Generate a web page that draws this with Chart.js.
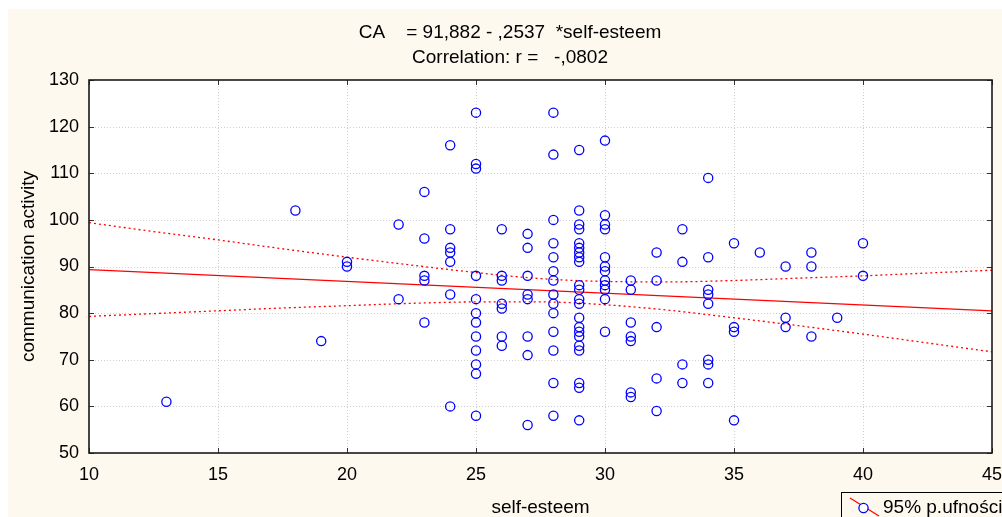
<!DOCTYPE html>
<html>
<head>
<meta charset="utf-8">
<script src="https://cdn.jsdelivr.net/npm/chart.js@4.4.1/dist/chart.umd.min.js"></script>
<style>
html,body{margin:0;padding:0;background:#ffffff;}
#wrap{width:1002px;height:517px;position:relative;overflow:hidden;}
canvas{display:block;}
</style>
</head>
<body>
<div id="wrap"><canvas id="c" width="1002" height="517"></canvas></div>
<script>
// ---- data ----
const selfEsteem = [
  13,
  18,
  19,
  20,20,
  22,22,
  23,23,23,23,23,
  24,24,24,24,24,24,24,
  25,25,25,25,25,25,25,25,25,25,25,25,
  26,26,26,26,26,26,26,
  27,27,27,27,27,27,27,27,
  28,28,28,28,28,28,28,28,28,28,28,28,28,28,
  29,29,29,29,29,29,29,29,29,29,29,29,29,29,29,29,29,29,29,29,29,29,
  30,30,30,30,30,30,30,30,30,30,30,30,
  31,31,31,31,31,31,31,
  32,32,32,32,32,
  33,33,33,33,
  34,34,34,34,34,34,34,34,
  35,35,35,35,
  36,
  37,37,37,
  38,38,38,
  39,
  40,40
];
const commActivity = [
  61,
  102,
  74,
  91,90,
  99,83,
  106,96,88,87,78,
  116,98,94,93,91,84,60,
  123,112,111,88,83,80,78,75,72,69,67,58,
  98,88,87,82,81,75,73,
  97,94,88,84,83,75,71,56,
  123,114,100,95,92,89,87,84,82,80,76,72,65,58,
  115,102,99,98,95,94,93,92,91,86,85,83,82,79,77,76,75,73,72,65,64,57,
  117,101,99,98,92,90,89,87,86,85,83,76,
  87,85,78,75,74,63,62,
  93,87,77,66,59,
  98,91,69,65,
  109,92,85,84,82,70,69,65,
  95,77,76,57,
  93,
  90,79,77,
  93,90,75,
  79,
  95,88
];
// regression line end points (CA = 91,882 - ,2537*self-esteem)
const fitX = [10, 45];
const fitY = [89.34, 80.47];
// 95% confidence band read at these x positions
const bandX     = [10, 12.5, 15, 17.5, 20, 22.5, 25, 27.5, 30, 32.5, 35, 37.5, 40, 42.5, 45];
const bandUpper = [99.4, 97.5, 95.7, 93.8, 92.0, 90.3, 88.7, 87.4, 86.8, 86.7, 87.0, 87.5, 88.0, 88.6, 89.2];
const bandLower = [79.3, 79.9, 80.5, 81.1, 81.6, 82.1, 82.4, 82.4, 81.8, 80.6, 79.0, 77.3, 75.5, 73.6, 71.7];
// axes
const xMin = 10, xMax = 45, xStep = 5;
const yMin = 50, yMax = 130, yStep = 10;
const titleLines = ['CA    = 91,882 - ,2537  *self-esteem', 'Correlation: r =   -,0802'];
const xTitle = 'self-esteem';
const yTitle = 'communication activity';
const legendLabel = '95% p.ufności';

const FONT = "'Liberation Sans', Arial, sans-serif";
const CREAM = '#fdf9ef';

const scatterPts = selfEsteem.map((x, i) => ({x: x, y: commActivity[i]}));
const fitPts = fitX.map((x, i) => ({x: x, y: fitY[i]}));
const upPts = bandX.map((x, i) => ({x: x, y: bandUpper[i]}));
const loPts = bandX.map((x, i) => ({x: x, y: bandLower[i]}));

const bgPlugin = {
  id: 'bg',
  beforeDraw(chart) {
    const ctx = chart.ctx, a = chart.chartArea;
    ctx.save();
    ctx.fillStyle = '#ffffff';
    ctx.fillRect(0, 0, chart.width, chart.height);
    ctx.fillStyle = CREAM;
    ctx.fillRect(8, 9, chart.width - 8, chart.height - 9);
    ctx.fillStyle = '#ffffff';
    ctx.fillRect(a.left, a.top, a.right - a.left, a.bottom - a.top);
    ctx.restore();
  },
  beforeDatasetsDraw(chart) {
    const ctx = chart.ctx, a = chart.chartArea;
    const xs = chart.scales.x, ys = chart.scales.y;
    ctx.save();
    ctx.strokeStyle = '#cfcfcf';
    ctx.lineWidth = 1;
    ctx.setLineDash([1, 2]);
    xs.ticks.forEach(t => {
      if (t.value <= xMin || t.value >= xMax) return;
      const px = Math.round(xs.getPixelForValue(t.value)) + 0.5;
      ctx.beginPath(); ctx.moveTo(px, a.top); ctx.lineTo(px, a.bottom); ctx.stroke();
    });
    ys.ticks.forEach(t => {
      if (t.value <= yMin || t.value >= yMax) return;
      const py = Math.round(ys.getPixelForValue(t.value)) + 0.5;
      ctx.beginPath(); ctx.moveTo(a.left, py); ctx.lineTo(a.right, py); ctx.stroke();
    });
    ctx.restore();
  },
  afterDatasetsDraw(chart) {
    const ctx = chart.ctx, a = chart.chartArea;
    const xs = chart.scales.x, ys = chart.scales.y;
    ctx.save();
    // inner tick marks
    ctx.strokeStyle = '#333333';
    ctx.lineWidth = 1;
    xs.ticks.forEach(t => {
      const px = Math.round(xs.getPixelForValue(t.value)) + 0.5;
      ctx.beginPath();
      ctx.moveTo(px, a.bottom); ctx.lineTo(px, a.bottom - 5);
      ctx.moveTo(px, a.top); ctx.lineTo(px, a.top + 5);
      ctx.stroke();
    });
    ys.ticks.forEach(t => {
      const py = Math.round(ys.getPixelForValue(t.value)) + 0.5;
      ctx.beginPath();
      ctx.moveTo(a.left, py); ctx.lineTo(a.left + 5, py);
      ctx.moveTo(a.right, py); ctx.lineTo(a.right - 5, py);
      ctx.stroke();
    });
    // frame
    ctx.strokeStyle = '#1a1a1a';
    ctx.lineWidth = 1.6;
    ctx.strokeRect(a.left, a.top, a.right - a.left, a.bottom - a.top);
    // legend box (partially cut off at the page edge)
    ctx.lineWidth = 1;
    ctx.strokeStyle = '#000000';
    ctx.fillStyle = CREAM;
    ctx.fillRect(841.5, 492.5, 200, 40);
    ctx.strokeRect(841.5, 492.5, 200, 40);
    ctx.strokeStyle = '#ff0000';
    ctx.lineWidth = 1.2;
    ctx.beginPath(); ctx.moveTo(850, 498); ctx.lineTo(879, 516); ctx.stroke();
    ctx.fillStyle = '#ffffff';
    ctx.strokeStyle = '#0000ff';
    ctx.lineWidth = 1.3;
    ctx.beginPath(); ctx.arc(863.5, 508, 4.6, 0, Math.PI * 2); ctx.fill(); ctx.stroke();
    ctx.fillStyle = '#000000';
    ctx.font = '19px ' + FONT;
    ctx.textBaseline = 'middle';
    ctx.textAlign = 'left';
    ctx.fillText(legendLabel, 883, 508);
    ctx.restore();
  }
};

new Chart(document.getElementById('c'), {
  type: 'scatter',
  data: {
    datasets: [
      {
        label: 'data',
        data: scatterPts,
        pointStyle: 'circle',
        pointRadius: 4.6,
        pointBorderWidth: 1.3,
        pointBorderColor: '#0000ff',
        pointBackgroundColor: 'rgba(255,255,255,0)',
        showLine: false,
        order: 0
      },
      {
        label: 'fit',
        data: fitPts,
        showLine: true,
        borderColor: '#ff0000',
        borderWidth: 1.3,
        pointRadius: 0,
        order: 1
      },
      {
        label: 'upper',
        data: upPts,
        showLine: true,
        borderColor: '#ff0000',
        borderWidth: 1.3,
        borderDash: [2, 3],
        pointRadius: 0,
        cubicInterpolationMode: 'monotone',
        order: 2
      },
      {
        label: 'lower',
        data: loPts,
        showLine: true,
        borderColor: '#ff0000',
        borderWidth: 1.3,
        borderDash: [2, 3],
        pointRadius: 0,
        cubicInterpolationMode: 'monotone',
        order: 3
      }
    ]
  },
  options: {
    responsive: false,
    animation: false,
    devicePixelRatio: 1,
    layout: { padding: { left: 18, right: 0, top: 0, bottom: 0 } },
    plugins: {
      legend: { display: false },
      tooltip: { enabled: false },
      title: {
        display: true,
        text: titleLines,
        color: '#000000',
        font: { family: FONT, size: 19, weight: 'normal', lineHeight: 25 / 19 },
        padding: { top: 20.5, bottom: 9.5 }
      }
    },
    scales: {
      x: {
        type: 'linear',
        min: xMin, max: xMax,
        grid: { display: false, drawTicks: false },
        border: { display: false },
        ticks: { stepSize: xStep, color: '#000000', padding: 11, maxRotation: 0,
                 font: { family: FONT, size: 18 } },
        title: { display: true, text: xTitle, color: '#000000',
                 font: { family: FONT, size: 19, lineHeight: 1 },
                 padding: { top: 0, bottom: 0 } },
        afterFit(scale) { scale.height = 64; scale.paddingLeft = 0; scale.paddingRight = 10; }
      },
      y: {
        type: 'linear',
        min: yMin, max: yMax,
        grid: { display: false, drawTicks: false },
        border: { display: false },
        ticks: { stepSize: yStep, color: '#000000', padding: 10,
                 font: { family: FONT, size: 18 } },
        title: { display: true, text: yTitle, color: '#000000',
                 font: { family: FONT, size: 19, lineHeight: 1 },
                 padding: { top: 1.5, bottom: 0 } },
        afterFit(scale) { scale.width = 71; }
      }
    }
  },
  plugins: [bgPlugin]
});
</script>
</body>
</html>
